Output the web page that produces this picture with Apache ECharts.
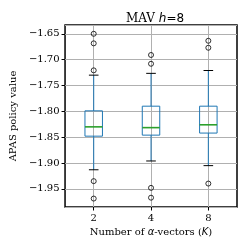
<!DOCTYPE html>
<html><head><meta charset="utf-8">
<script src="https://cdn.jsdelivr.net/npm/echarts@6/dist/echarts.min.js"></script>
<style>html,body{margin:0;padding:0;background:#fff}#c{width:249px;height:249px}</style>
</head><body><div id="c"></div>
<script>
const categories = ['2', '4', '8'];
const whiskerLow = [-1.913, -1.896, -1.905];
const q1Values = [-1.848, -1.846, -1.842];
const medians = [-1.830, -1.8315, -1.826];
const q3Values = [-1.799, -1.790, -1.790];
const whiskerHigh = [-1.730, -1.7265, -1.721];
const outliers = [
  ['2', -1.650], ['2', -1.6685], ['2', -1.7207], ['2', -1.935], ['2', -1.9687],
  ['4', -1.691], ['4', -1.708], ['4', -1.948], ['4', -1.967],
  ['8', -1.6635], ['8', -1.677], ['8', -1.9397]
];
const yMin = -1.985, yMax = -1.633;

const boxData = categories.map((c, i) => [i, whiskerLow[i], q1Values[i], medians[i], q3Values[i], whiskerHigh[i]]);
const serif = 'DejaVu Serif';
const fmt = v => (v < 0 ? '\u2212' : '') + Math.abs(v).toFixed(2);

const chart = echarts.init(document.getElementById('c'), null, {renderer: 'canvas'});
chart.setOption({
  animation: false,
  backgroundColor: '#fff',
  title: {
    text: '{n|MAV }{i|h}{s|=8}',
    left: 150, top: 8, textAlign: 'center',
    textStyle: { fontWeight: 'normal', rich: {
      n: {fontFamily: serif, fontSize: 12, fontWeight: 'normal', color: '#000'},
      i: {fontFamily: 'DejaVu Sans', fontStyle: 'italic', fontWeight: 'normal', fontSize: 12, color: '#000'},
      s: {fontFamily: 'DejaVu Sans', fontSize: 12, fontWeight: 'normal', color: '#000'}
    }}
  },
  grid: { left: 63, right: 12, top: 25, bottom: 42, show: true, borderColor: '#000', borderWidth: 1.5, backgroundColor: 'transparent' },
  xAxis: {
    type: 'category', data: categories, boundaryGap: true,
    name: '{n|Number of }{i|\u03b1}{n|-vectors (}{i|K}{n|)}', nameLocation: 'middle', nameGap: 17,
    nameTextStyle: { fontFamily: serif, fontSize: 10, color: '#000', rich: {
      n: {fontFamily: serif, fontSize: 10, color: '#000'},
      i: {fontFamily: 'DejaVu Sans', fontStyle: 'italic', fontSize: 10, color: '#000'}
    }},
    axisLine: { show: false, onZero: false },
    axisTick: { show: true, alignWithLabel: true, length: 3.5, lineStyle: {color: '#000', width: 1} },
    axisLabel: { fontFamily: serif, fontSize: 10, color: '#000', margin: 6 },
    splitLine: { show: true, alignWithLabel: true, lineStyle: {color: '#b0b0b0', width: 1} }
  },
  yAxis: {
    type: 'value', min: yMin, max: yMax, splitNumber: 7, scale: true,
    name: 'APAS policy value', nameLocation: 'middle', nameGap: 42, nameRotate: 90,
    nameTextStyle: { fontFamily: serif, fontSize: 10, color: '#000' },
    axisLine: { show: false },
    axisTick: { show: true, length: 3.5, lineStyle: {color: '#000', width: 1} },
    axisLabel: { fontFamily: serif, fontSize: 10, color: '#000', margin: 5.5, formatter: fmt, showMinLabel: false, showMaxLabel: false },
    splitLine: { show: true, lineStyle: {color: '#b0b0b0', width: 1} }
  },
  series: [
    {
      type: 'custom',
      data: boxData,
      encode: { x: 0, y: [1, 2, 3, 4, 5] },
      renderItem: function (params, api) {
        const idx = api.value(0);
        const pLow = api.coord([idx, api.value(1)]);
        const pQ1 = api.coord([idx, api.value(2)]);
        const pMed = api.coord([idx, api.value(3)]);
        const pQ3 = api.coord([idx, api.value(4)]);
        const pHigh = api.coord([idx, api.value(5)]);
        const band = api.size([1, 0])[0];
        const bw = band * 0.305, cw = bw * 0.55;
        const x = pMed[0];
        const blue = '#1f77b4';
        return {
          type: 'group',
          children: [
            {type: 'rect', shape: {x: x - bw / 2, y: pQ3[1], width: bw, height: pQ1[1] - pQ3[1]}, style: {fill: 'none', stroke: blue, lineWidth: 1}},
            {type: 'line', shape: {x1: x, y1: pQ3[1], x2: x, y2: pHigh[1]}, style: {stroke: blue, lineWidth: 1}},
            {type: 'line', shape: {x1: x, y1: pQ1[1], x2: x, y2: pLow[1]}, style: {stroke: blue, lineWidth: 1}},
            {type: 'line', shape: {x1: x - cw / 2, y1: pHigh[1], x2: x + cw / 2, y2: pHigh[1]}, style: {stroke: '#000', lineWidth: 1}},
            {type: 'line', shape: {x1: x - cw / 2, y1: pLow[1], x2: x + cw / 2, y2: pLow[1]}, style: {stroke: '#000', lineWidth: 1}},
            {type: 'line', shape: {x1: x - bw / 2, y1: pMed[1], x2: x + bw / 2, y2: pMed[1]}, style: {stroke: '#2ca02c', lineWidth: 1.6}}
          ]
        };
      },
      z: 3
    },
    {
      type: 'scatter', data: outliers, symbol: 'circle', symbolSize: 5,
      itemStyle: { color: 'transparent', borderColor: '#000', borderWidth: 1 },
      z: 4
    }
  ]
});
</script></body></html>
